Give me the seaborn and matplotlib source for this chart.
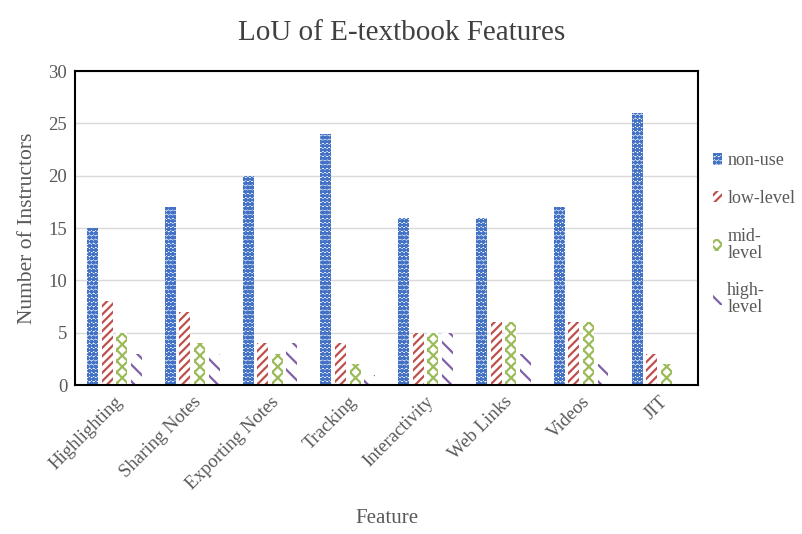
import seaborn as sns
import matplotlib.pyplot as plt
import pandas as pd

features = ["Highlighting", "Sharing Notes", "Exporting Notes", "Tracking",
            "Interactivity", "Web Links", "Videos", "JIT"]
levels = ["non-use", "low-level", "mid-level", "high-level"]
legend_labels = ["non-use", "low-level", "mid-\nlevel", "high-\nlevel"]

non_use = [15, 17, 20, 24, 16, 16, 17, 26]
low_level = [8, 7, 4, 4, 5, 6, 6, 3]
mid_level = [5, 4, 3, 2, 5, 6, 6, 2]
high_level = [3, 3, 4, 1, 5, 3, 2, 0]

colors = ["#4472C4", "#C0504D", "#9BBB59", "#7F60A8"]
hatches = ["oooo", "////", "xxx", "\\\\"]

rows = []
for lvl, vals in zip(levels, [non_use, low_level, mid_level, high_level]):
    for f, v in zip(features, vals):
        rows.append({"Feature": f, "Level": lvl, "Count": v})
df = pd.DataFrame(rows)

sns.set_style("white")
plt.rcParams["font.family"] = ["Liberation Serif", "DejaVu Serif"]
plt.rcParams["hatch.linewidth"] = 1.6

fig = plt.figure(figsize=(8.03, 5.34), dpi=100)
ax = fig.add_axes([0.094, 0.279, 0.775, 0.588])

sns.barplot(data=df, x="Feature", y="Count", hue="Level", order=features,
            hue_order=levels, palette=["white"] * 4, width=0.75, gap=0.25,
            ax=ax, legend=False)

# hatched bars, white fill, no outline
for cont, col, h in zip(ax.containers, colors, hatches):
    for bar in cont:
        bar.set_facecolor("white")
        bar.set_edgecolor(col)
        bar.set_hatch(h)
        bar.set_linewidth(0)

ax.set_ylim(0, 30)
ax.set_yticks(range(0, 31, 5))
ax.set_xlim(-0.5, len(features) - 0.5)
ax.yaxis.grid(True, color="#d9d9d9", linewidth=1)
ax.set_axisbelow(True)
for s in ax.spines.values():
    s.set_color("black")
    s.set_linewidth(1.5)

ax.tick_params(axis="both", length=0, labelsize=13.5, labelcolor="#595959", pad=6)
plt.setp(ax.get_xticklabels(), rotation=45, ha="right", rotation_mode="anchor")

ax.set_xlabel("Feature", fontsize=15, color="#595959", labelpad=12)
ax.set_ylabel("Number of Instructors", fontsize=15.5, color="#595959", labelpad=8)
fig.suptitle("LoU of E-textbook Features", fontsize=21, color="#404040", y=0.963)

handles = [plt.Rectangle((0, 0), 1, 1, facecolor="white", edgecolor=c, hatch=h, linewidth=0)
           for c, h in zip(colors, hatches)]
leg = ax.legend(handles, legend_labels, loc="center left", bbox_to_anchor=(0.998, 0.48),
                frameon=False, fontsize=13, handlelength=0.5, handleheight=0.6,
                handletextpad=0.3, labelspacing=1.15)
for t in leg.get_texts():
    t.set_color("#595959")
    t.set_linespacing(1.0)

fig.savefig("out.png", dpi=100)
